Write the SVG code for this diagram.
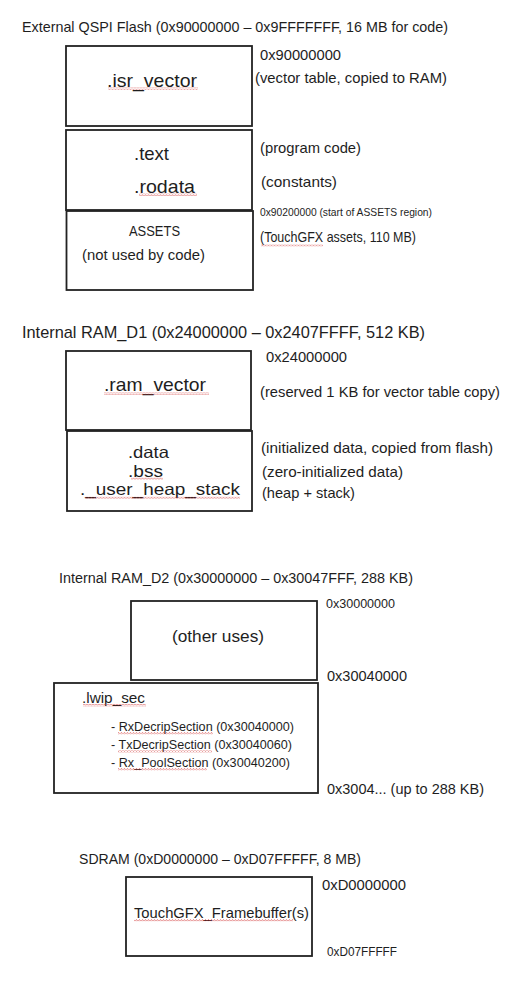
<svg xmlns="http://www.w3.org/2000/svg" width="521" height="999" viewBox="0 0 521 999">
<style>
text{font-family:"Liberation Sans",Arial,sans-serif;fill:#1e1e1e}
.t{font-size:15px}
.lbl{font-size:18.5px}
.lbl2{font-size:16.5px}
.n{font-size:14.5px}
.s{font-size:12.5px}
.xs{font-size:10.5px}
.box{fill:#fff;stroke:#222;stroke-width:1.8}
.sq{fill:url(#squig)}
</style>
<defs>
<pattern id="squig" width="3" height="2.4" patternUnits="userSpaceOnUse">
<path d="M0 2 L1.5 0.4 L3 2" fill="none" stroke="#d23a3a" stroke-width="0.6"/>
</pattern>
</defs>
<rect width="521" height="999" fill="#fff"/>

<g id="flash">
<text class="t" x="22" y="32" textLength="426" lengthAdjust="spacingAndGlyphs">External QSPI Flash (0x90000000 – 0x9FFFFFFF, 16 MB for code)</text>
<g id="isr_vector">
<rect class="box" x="66" y="46" width="186" height="80"/>
<text class="lbl" x="107" y="87" textLength="90" lengthAdjust="spacingAndGlyphs">.isr_vector</text>
<rect class="sq" x="108" y="87.5" width="90" height="2.4"/>
<text class="n" x="260" y="60" textLength="81" lengthAdjust="spacingAndGlyphs">0x90000000</text>
<text class="n" x="255" y="83" textLength="192" lengthAdjust="spacingAndGlyphs">(vector table, copied to RAM)</text>
</g>
<g id="text_rodata">
<rect class="box" x="66" y="130" width="186" height="80"/>
<text class="lbl" x="134" y="160" textLength="35" lengthAdjust="spacingAndGlyphs">.text</text>
<text class="lbl" x="134" y="193" textLength="61" lengthAdjust="spacingAndGlyphs">.rodata</text>
<rect class="sq" x="139" y="193.5" width="58" height="2.4"/>
<text class="n" x="260" y="153" textLength="101" lengthAdjust="spacingAndGlyphs">(program code)</text>
<text class="n" x="261" y="187" textLength="76" lengthAdjust="spacingAndGlyphs">(constants)</text>
</g>
<g id="assets">
<rect class="box" x="66.5" y="211" width="186.5" height="79"/>
<text class="n" x="129" y="236" textLength="51" lengthAdjust="spacingAndGlyphs">ASSETS</text>
<text class="n" x="82" y="260" textLength="123" lengthAdjust="spacingAndGlyphs">(not used by code)</text>
<text class="xs" x="260" y="216" textLength="172" lengthAdjust="spacingAndGlyphs">0x90200000 (start of ASSETS region)</text>
<text class="n" x="260" y="242" textLength="156" lengthAdjust="spacingAndGlyphs">(TouchGFX assets, 110 MB)</text>
<rect class="sq" x="261" y="244" width="62" height="2.4"/>
</g>
</g>

<g id="ram_d1">
<text class="t" x="22" y="338" style="font-size:17px" textLength="403" lengthAdjust="spacingAndGlyphs">Internal RAM_D1 (0x24000000 – 0x2407FFFF, 512 KB)</text>
<g id="ram_vector">
<rect class="box" x="66" y="351" width="185" height="79"/>
<text class="lbl" x="104" y="391" textLength="102" lengthAdjust="spacingAndGlyphs">.ram_vector</text>
<rect class="sq" x="104" y="392.5" width="105" height="2.4"/>
<text class="n" x="266" y="362" textLength="81" lengthAdjust="spacingAndGlyphs">0x24000000</text>
<text class="n" x="260" y="397" textLength="240" lengthAdjust="spacingAndGlyphs">(reserved 1 KB for vector table copy)</text>
</g>
<g id="data_bss_heap">
<rect class="box" x="67" y="431" width="185" height="80"/>
<text class="lbl2" x="128" y="458" textLength="41" lengthAdjust="spacingAndGlyphs">.data</text>
<text class="lbl2" x="128" y="477" textLength="35" lengthAdjust="spacingAndGlyphs">.bss</text>
<rect class="sq" x="131" y="477.5" width="32" height="2.4"/>
<text class="lbl2" x="80" y="495" textLength="160" lengthAdjust="spacingAndGlyphs">._user_heap_stack</text>
<rect class="sq" x="85" y="496.5" width="155" height="2.4"/>
<text class="n" x="261" y="453" textLength="232" lengthAdjust="spacingAndGlyphs">(initialized data, copied from flash)</text>
<text class="n" x="262" y="477" textLength="141" lengthAdjust="spacingAndGlyphs">(zero-initialized data)</text>
<text class="n" x="262" y="498" textLength="93" lengthAdjust="spacingAndGlyphs">(heap + stack)</text>
</g>
</g>

<g id="ram_d2">
<text class="t" x="59" y="583" style="font-size:14px" textLength="354" lengthAdjust="spacingAndGlyphs">Internal RAM_D2 (0x30000000 – 0x30047FFF, 288 KB)</text>
<g id="other_uses">
<rect class="box" x="131" y="601" width="186" height="79"/>
<text class="lbl" x="172" y="642" style="font-size:17px" textLength="92" lengthAdjust="spacingAndGlyphs">(other uses)</text>
<text class="s" x="326" y="608" textLength="69" lengthAdjust="spacingAndGlyphs">0x30000000</text>
<text class="n" x="327" y="681" textLength="80" lengthAdjust="spacingAndGlyphs">0x30040000</text>
</g>
<g id="lwip_sec">
<rect class="box" x="54" y="683" width="264" height="110"/>
<text class="n" x="82" y="703" textLength="63" lengthAdjust="spacingAndGlyphs">.lwip_sec</text>
<rect class="sq" x="83" y="704" width="63" height="2.4"/>
<text class="s" x="111" y="731" textLength="183" lengthAdjust="spacingAndGlyphs">- RxDecripSection (0x30040000)</text>
<rect class="sq" x="118" y="732" width="95" height="2.4"/>
<text class="s" x="111" y="749" textLength="181" lengthAdjust="spacingAndGlyphs">- TxDecripSection (0x30040060)</text>
<rect class="sq" x="118" y="750" width="94" height="2.4"/>
<text class="s" x="111" y="767" textLength="179" lengthAdjust="spacingAndGlyphs">- Rx_PoolSection  (0x30040200)</text>
<rect class="sq" x="118" y="768" width="89" height="2.4"/>
<text class="n" x="327" y="794" textLength="157" lengthAdjust="spacingAndGlyphs">0x3004... (up to 288 KB)</text>
</g>
</g>

<g id="sdram">
<text class="t" x="79" y="864" style="font-size:14px" textLength="282" lengthAdjust="spacingAndGlyphs">SDRAM (0xD0000000 – 0xD07FFFFF, 8 MB)</text>
<g id="framebuffer">
<rect class="box" x="126" y="877" width="186" height="79"/>
<text class="n" x="134" y="918" textLength="175" lengthAdjust="spacingAndGlyphs">TouchGFX_Framebuffer(s)</text>
<rect class="sq" x="134" y="919" width="159" height="2.4"/>
<text class="n" x="322" y="890" textLength="84" lengthAdjust="spacingAndGlyphs">0xD0000000</text>
<text class="s" x="327" y="956" textLength="70" lengthAdjust="spacingAndGlyphs">0xD07FFFFF</text>
</g>
</g>

<g id="connectors"/>
</svg>
